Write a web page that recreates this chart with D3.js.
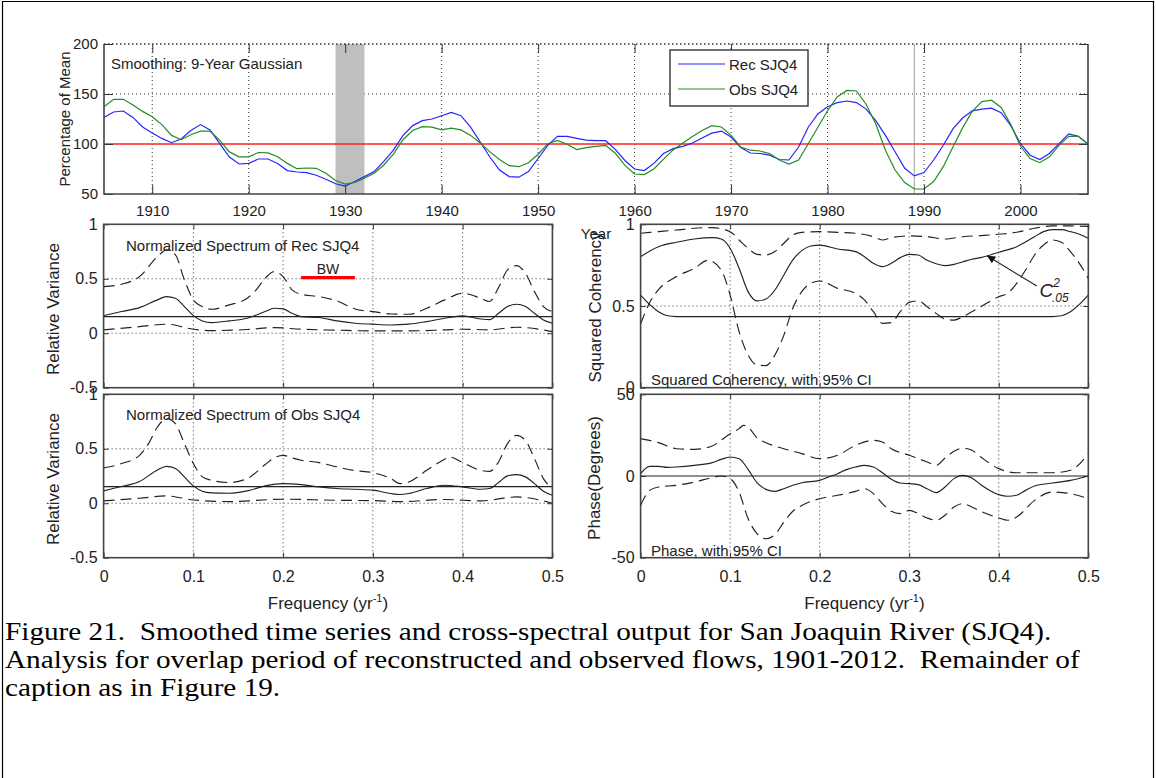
<!DOCTYPE html>
<html>
<head>
<meta charset="utf-8">
<script src="https://cdn.jsdelivr.net/npm/d3@7"></script>
<style>
  html, body { margin: 0; padding: 0; background: #fff; }
  svg text { font-family: "Liberation Sans", Arial, Helvetica, sans-serif; fill: #222; }
  .caption { font-family: "Liberation Serif", "Times New Roman", serif !important; font-size: 25px; fill: #000; white-space: pre; }
  .grid line { stroke: #333; stroke-width: 1; stroke-dasharray: 1,3; }
  .tick line { stroke: #333; stroke-width: 1; }
</style>
</head>
<body>
<div id="chart"></div>
<script>
// ---------------- Smoothed series (percent of mean) ----------------
const yearStart = 1905, yearEnd = 2007;
const years = d3.range(yearStart, yearEnd + 1);
const recSJQ4 = [126.6,132,133,126.6,117,111,105.6,101.3,105,113.5,119.4,114,100.3,87,80,80.6,85,85,80.6,73.4,
  72,71.4,68.8,64.8,60.2,58,62.5,67.4,72.4,82.6,93.8,108.6,118.4,123.4,125,128.3,131.6,128.3,116.8,102,
  87,74,67.4,66.8,72.4,85.5,98.7,107.6,107.6,105.6,103.9,103.3,103.3,94.7,83.5,75,73.4,80.6,90.5,95.4,
  97.7,101,106,110.9,112.9,107,96.4,91,90.5,88.8,84.5,84,97,116.8,130,137.2,141.4,143,141.4,134.9,
  123.4,108.6,92.2,75.7,68.1,71.4,84,98.7,115.1,126,133.2,134.9,135.9,131.3,118.4,100.3,88.8,84.5,90.5,100.3,
  110.2,107.6,100];
const obsSJQ4 = [137.2,144.7,144.7,139,132.6,127.3,119.4,108.6,104.3,109.2,112.8,112.8,103.6,92.1,87.2,87.2,91.5,91.1,87.2,80.6,
  75.3,76,75.7,70.7,63.5,59.9,61.5,65.8,70.7,79,89.8,104.3,113.5,117.4,116.8,114.1,115.8,114.1,108.6,101,
  92.1,84.5,78.3,77.3,81.3,89.8,100.3,103.6,99.7,94.4,96.4,97.7,98.7,90.8,78.6,70,69.4,75,84.9,94.1,
  101,107.6,113.5,118.4,117,108.6,97,93.8,93,90.5,84,80,84,100.3,116.8,133.2,147,153.6,153,139.8,
  120,93.8,74,61.5,55,55,62.5,77.3,97,116.1,132.6,142.4,143.8,136.5,119.4,97.7,85.5,81.3,87.2,98.7,
  107.6,107.6,100];
const meanLevel = 100;
const droughtSpan = [1929, 1932];
const markYear = 1989;
const topYTicks = [50, 100, 150, 200];
const topXTicks = [1910, 1920, 1930, 1940, 1950, 1960, 1970, 1980, 1990, 2000];

// ---------------- Spectrum of reconstruction ----------------
const recSpecF = [0,0.02,0.04,0.06,0.07,0.08,0.09,0.10,0.11,0.12,0.14,0.16,0.18,0.19,0.20,0.21,0.22,0.24,0.26,0.28,0.30,0.32,0.34,0.36,0.38,0.40,0.42,0.43,0.44,0.45,0.46,0.47,0.48,0.49,0.50];
const recSpec = [0.162,0.199,0.235,0.306,0.336,0.321,0.245,0.162,0.113,0.098,0.113,0.138,0.199,0.229,0.223,0.183,0.153,0.144,0.113,0.092,0.083,0.076,0.083,0.107,0.138,0.159,0.131,0.125,0.183,0.245,0.266,0.245,0.183,0.122,0.092];
const recUpF = [0,0.02,0.04,0.06,0.07,0.08,0.09,0.10,0.11,0.12,0.14,0.16,0.17,0.18,0.19,0.20,0.21,0.22,0.24,0.26,0.28,0.30,0.32,0.34,0.36,0.38,0.40,0.42,0.43,0.44,0.45,0.46,0.47,0.48,0.49,0.50];
const recUp = [0.428,0.45,0.52,0.703,0.765,0.72,0.49,0.306,0.245,0.22,0.26,0.321,0.398,0.505,0.566,0.52,0.398,0.358,0.336,0.297,0.223,0.199,0.177,0.174,0.229,0.306,0.367,0.321,0.291,0.419,0.581,0.621,0.55,0.382,0.245,0.199];
const recLoF = [0,0.04,0.07,0.10,0.12,0.16,0.19,0.22,0.26,0.30,0.34,0.38,0.40,0.43,0.46,0.50];
const recLo = [0.031,0.06,0.083,0.037,0.024,0.034,0.052,0.037,0.028,0.021,0.021,0.031,0.037,0.031,0.055,0.015];
const recWhite = 0.153;

// ---------------- Spectrum of observed flows ----------------
const obsSpecF = [0,0.02,0.04,0.06,0.07,0.08,0.09,0.10,0.11,0.12,0.14,0.16,0.18,0.20,0.22,0.24,0.26,0.28,0.30,0.32,0.33,0.34,0.36,0.38,0.40,0.42,0.43,0.44,0.45,0.46,0.47,0.48,0.49,0.50];
const obsSpec = [0.113,0.153,0.199,0.306,0.339,0.318,0.242,0.159,0.11,0.095,0.092,0.113,0.159,0.18,0.171,0.15,0.135,0.128,0.12,0.089,0.08,0.089,0.135,0.165,0.15,0.128,0.135,0.19,0.251,0.263,0.242,0.18,0.11,0.073];
const obsUpF = [0,0.02,0.04,0.05,0.06,0.07,0.08,0.09,0.10,0.11,0.12,0.14,0.16,0.18,0.19,0.20,0.21,0.22,0.24,0.26,0.28,0.30,0.32,0.33,0.34,0.36,0.38,0.385,0.40,0.42,0.43,0.44,0.45,0.46,0.47,0.48,0.49,0.50];
const obsUp = [0.324,0.364,0.44,0.547,0.7,0.777,0.73,0.547,0.364,0.242,0.211,0.19,0.226,0.355,0.416,0.44,0.416,0.395,0.373,0.333,0.3,0.281,0.226,0.18,0.195,0.302,0.404,0.425,0.373,0.302,0.293,0.379,0.547,0.623,0.577,0.41,0.226,0.135];
const obsLoF = [0,0.04,0.07,0.10,0.14,0.20,0.26,0.30,0.33,0.38,0.42,0.46,0.50];
const obsLo = [0.021,0.046,0.067,0.03,0.015,0.037,0.027,0.024,0.015,0.034,0.021,0.058,0.0];
const obsWhite = 0.153;
const bandwidth = [0.22, 0.28];
const bandwidthLevel = 0.51;

// ---------------- Squared coherency ----------------
const cohF = [0,0.02,0.04,0.06,0.08,0.09,0.10,0.11,0.12,0.13,0.14,0.15,0.16,0.17,0.18,0.19,0.20,0.22,0.24,0.25,0.26,0.27,0.28,0.29,0.30,0.31,0.32,0.33,0.34,0.35,0.36,0.37,0.38,0.40,0.42,0.44,0.45,0.46,0.47,0.48,0.49,0.50];
const coh = [0.802,0.863,0.89,0.91,0.918,0.91,0.853,0.731,0.588,0.531,0.543,0.598,0.69,0.782,0.839,0.867,0.873,0.849,0.833,0.802,0.761,0.741,0.761,0.796,0.816,0.812,0.78,0.759,0.747,0.755,0.771,0.786,0.796,0.829,0.863,0.924,0.955,0.967,0.967,0.955,0.939,0.914];
const cohUpF = [0,0.02,0.04,0.06,0.08,0.10,0.11,0.12,0.13,0.14,0.15,0.16,0.17,0.18,0.20,0.22,0.24,0.26,0.27,0.28,0.30,0.32,0.34,0.36,0.38,0.40,0.42,0.44,0.46,0.48,0.50];
const cohUp = [0.945,0.955,0.965,0.976,0.98,0.955,0.904,0.853,0.816,0.812,0.833,0.884,0.935,0.951,0.955,0.951,0.945,0.924,0.904,0.918,0.929,0.924,0.91,0.924,0.931,0.939,0.951,0.976,0.99,0.99,0.986];
const cohLoF = [0,0.01,0.02,0.04,0.06,0.075,0.09,0.10,0.11,0.12,0.13,0.14,0.15,0.16,0.17,0.18,0.19,0.20,0.22,0.24,0.25,0.26,0.27,0.28,0.29,0.30,0.31,0.32,0.33,0.34,0.35,0.36,0.37,0.38,0.40,0.41,0.42,0.43,0.44,0.45,0.46,0.47,0.48,0.49,0.50];
const cohLo = [0.39,0.52,0.6,0.68,0.73,0.78,0.72,0.567,0.343,0.2,0.139,0.135,0.2,0.322,0.486,0.588,0.639,0.653,0.608,0.578,0.537,0.465,0.394,0.398,0.465,0.522,0.531,0.496,0.455,0.42,0.414,0.435,0.465,0.496,0.557,0.578,0.639,0.72,0.812,0.873,0.904,0.89,0.833,0.761,0.669];
const sigF = [0,0.01,0.02,0.03,0.04,0.46,0.47,0.48,0.49,0.50];
const sig05 = [0.567,0.51,0.465,0.44,0.435,0.435,0.44,0.465,0.51,0.567];

// ---------------- Phase ----------------
const phaseF = [0,0.01,0.02,0.03,0.04,0.06,0.08,0.09,0.10,0.11,0.12,0.13,0.14,0.15,0.16,0.17,0.18,0.20,0.21,0.22,0.23,0.24,0.25,0.26,0.27,0.28,0.29,0.30,0.31,0.32,0.33,0.34,0.35,0.36,0.37,0.38,0.39,0.40,0.41,0.42,0.43,0.44,0.46,0.48,0.50];
const phase = [1.4,5.9,5.9,5.3,5.5,6.5,8.2,10.2,11.6,10.6,4.1,-4.1,-8.2,-9.4,-7.8,-5.7,-4.1,-2.7,-0.6,1.4,3.9,5.5,6.5,5.5,2.0,-2.0,-4.3,-4.7,-5.3,-7.8,-10.2,-6.7,-1.6,0.4,-1.2,-5.3,-8.8,-11.4,-12.4,-11.8,-8.8,-6.1,-4.3,-2.7,0];
const phaseUpF = [0,0.02,0.04,0.06,0.08,0.10,0.11,0.115,0.12,0.13,0.14,0.16,0.18,0.20,0.22,0.24,0.26,0.27,0.28,0.30,0.32,0.33,0.34,0.35,0.36,0.37,0.38,0.40,0.42,0.44,0.46,0.48,0.50];
const phaseUp = [22.9,20.4,16.7,16.3,18.4,25.9,29,31,30,23.3,20.4,16.7,13.7,10.6,12.7,18.8,21.8,20.8,16.7,12.7,8.6,6.5,11,15.1,17.1,15.7,11.6,4.5,2,2,2,3.5,13.7];
const phaseLoF = [0,0.01,0.02,0.04,0.06,0.08,0.09,0.10,0.11,0.12,0.13,0.14,0.15,0.16,0.17,0.18,0.20,0.22,0.24,0.25,0.26,0.27,0.28,0.29,0.30,0.31,0.32,0.33,0.34,0.35,0.36,0.37,0.38,0.40,0.41,0.42,0.44,0.46,0.48,0.50];
const phaseLo = [-18,-8.8,-6.7,-5.7,-3.7,-1,0,-1.6,-9.8,-26,-35.3,-38.4,-35.9,-28.2,-21.6,-18,-13.9,-11.8,-9.4,-7.8,-10.8,-16.9,-21.6,-23,-21,-23,-25.7,-27.1,-24,-19,-16.9,-19,-21.6,-25.7,-27.1,-25.1,-14.9,-9.8,-10.8,-13.9];

const freqTicks = [0, 0.1, 0.2, 0.3, 0.4, 0.5];
const varTicks = [-0.5, 0, 0.5, 1];
const cohTicks = [0, 0.5, 1];
const phaseTicks = [-50, 0, 50];

const captionLines = [
  "Figure 21.  Smoothed time series and cross-spectral output for San Joaquin River (SJQ4).",
  "Analysis for overlap period of reconstructed and observed flows, 1901-2012.  Remainder of",
  "caption as in Figure 19."
];

// ---------------- Drawing ----------------
const W = 1156, H = 778;
const svg = d3.select("#chart").append("svg").attr("width", W).attr("height", H);
svg.append("rect").attr("width", W).attr("height", H).attr("fill", "#fff");

// page frame
svg.append("path").attr("d", `M2.5,${H + 2} V1.5 H1153.5 V${H + 2}`)
  .attr("fill", "none").attr("stroke", "#000").attr("stroke-width", 1.2);

const defs = svg.append("defs");
let clipId = 0;

function makePanel(o) {
  const x = d3.scaleLinear().domain(o.xDomain).range([o.x0, o.x1]);
  const y = d3.scaleLinear().domain(o.yDomain).range([o.y1, o.y0]);
  const g = svg.append("g");
  const id = "clip" + (clipId++);
  defs.append("clipPath").attr("id", id).append("rect")
    .attr("x", o.x0).attr("y", o.y0).attr("width", o.x1 - o.x0).attr("height", o.y1 - o.y0);
  const grid = g.append("g").attr("class", "grid");
  grid.selectAll("line.gx").data(o.gridX).join("line").attr("class", "gx")
    .attr("x1", d => x(d)).attr("x2", d => x(d)).attr("y1", o.y0).attr("y2", o.y1);
  grid.selectAll("line.gy").data(o.gridY).join("line").attr("class", "gy")
    .attr("x1", o.x0).attr("x2", o.x1).attr("y1", d => y(d)).attr("y2", d => y(d));
  const plot = g.append("g").attr("clip-path", `url(#${id})`);
  return { g, plot, x, y, o };
}

function finishPanel(p) {
  const { g, x, y, o } = p;
  const tl = o.tickLen;
  const ax = g.append("g");
  const fmt = d => String(d);
  ax.append("g").attr("transform", `translate(0,${o.y1})`)
    .call(d3.axisBottom(x).tickValues(o.xTicks).tickSize(-tl).tickSizeOuter(0).tickPadding(o.xPad)
      .tickFormat(o.xLabels ? fmt : ""));
  ax.append("g").attr("transform", `translate(0,${o.y0})`)
    .call(d3.axisTop(x).tickValues(o.xTicks).tickSize(-tl).tickSizeOuter(0).tickFormat(""));
  ax.append("g").attr("transform", `translate(${o.x0},0)`)
    .call(d3.axisLeft(y).tickValues(o.yTicks).tickSize(-tl).tickSizeOuter(0).tickPadding(6).tickFormat(fmt));
  ax.append("g").attr("transform", `translate(${o.x1},0)`)
    .call(d3.axisRight(y).tickValues(o.yTicks).tickSize(-tl).tickSizeOuter(0).tickFormat(""));
  ax.selectAll(".domain").remove();
  ax.selectAll(".tick text").attr("font-size", o.tickFont).attr("fill", "#222")
    .attr("font-family", "Liberation Sans, Arial, sans-serif");
  if (o.dottedTop) {
    g.append("path").attr("d", `M${o.x0},${o.y0} V${o.y1} H${o.x1} V${o.y0}`)
      .attr("fill", "none").attr("stroke", "#444").attr("stroke-width", 1.6);
    g.append("line").attr("x1", o.x0).attr("x2", o.x1).attr("y1", o.y0).attr("y2", o.y0)
      .attr("stroke", "#333").attr("stroke-width", 1.6).attr("stroke-dasharray", "1.5,2.5");
  } else {
    g.append("rect").attr("x", o.x0).attr("y", o.y0).attr("width", o.x1 - o.x0).attr("height", o.y1 - o.y0)
      .attr("fill", "none").attr("stroke", "#444").attr("stroke-width", 1.6);
  }
}

function drawCurve(p, fs, vs, style) {
  const pts = fs.map((f, i) => [f, vs[i]]);
  const line = d3.line().x(d => p.x(d[0])).y(d => p.y(d[1])).curve(style.curve || d3.curveMonotoneX);
  p.plot.append("path").datum(pts).attr("d", line)
    .attr("fill", "none").attr("stroke", style.color || "#222")
    .attr("stroke-width", style.width || 1.15)
    .attr("stroke-dasharray", style.dash || null);
}

function hLine(p, v, style) {
  p.plot.append("line").attr("x1", p.o.x0).attr("x2", p.o.x1).attr("y1", p.y(v)).attr("y2", p.y(v))
    .attr("stroke", style.color || "#222").attr("stroke-width", style.width || 1.15);
}

function label(txt, x, y, opts = {}) {
  const t = svg.append("text").attr("x", x).attr("y", y).attr("font-size", opts.size || 15)
    .attr("text-anchor", opts.anchor || "start").attr("dominant-baseline", "central").text(txt);
  if (opts.rotate) t.attr("transform", `rotate(-90,${x},${y})`);
  return t;
}

const DASH = "11,6";

// ---- top panel: smoothed series ----
const pTop = makePanel({ x0: 104, x1: 1088, y0: 44, y1: 194, xDomain: [yearStart, yearEnd], yDomain: [50, 200],
  gridX: topXTicks, gridY: [150], xTicks: topXTicks, yTicks: topYTicks, tickLen: 9, xPad: 11, tickFont: 15,
  xLabels: true, dottedTop: true });
pTop.plot.append("rect").attr("x", pTop.x(droughtSpan[0])).attr("y", pTop.y(200))
  .attr("width", pTop.x(droughtSpan[1]) - pTop.x(droughtSpan[0])).attr("height", pTop.y(50) - pTop.y(200)).attr("fill", "#bfbfbf");
pTop.plot.append("line").attr("x1", pTop.x(markYear)).attr("x2", pTop.x(markYear)).attr("y1", pTop.y(200)).attr("y2", pTop.y(50))
  .attr("stroke", "#b3b3b3").attr("stroke-width", 1.3);
hLine(pTop, meanLevel, { color: "#ff2020", width: 1.6 });
drawCurve(pTop, years, recSJQ4, { color: "#2424ff", width: 1.2, curve: d3.curveLinear });
drawCurve(pTop, years, obsSJQ4, { color: "#248c24", width: 1.2, curve: d3.curveLinear });
finishPanel(pTop);
label("Smoothing: 9-Year Gaussian", 111, 63);
label("Percentage of Mean", 64, 119, { rotate: true, anchor: "middle" });
label("Year", 596, 233, { anchor: "middle", size: 15 });

// legend
const lg = svg.append("g");
lg.append("rect").attr("x", 670).attr("y", 50).attr("width", 138).attr("height", 56)
  .attr("fill", "#fff").attr("stroke", "#333").attr("stroke-width", 1.4);
[["Rec SJQ4", "#2424ff", 64], ["Obs SJQ4", "#248c24", 89]].forEach(([name, col, ly]) => {
  lg.append("line").attr("x1", 678).attr("x2", 725).attr("y1", ly).attr("y2", ly).attr("stroke", col).attr("stroke-width", 1.2);
  lg.append("text").attr("x", 729).attr("y", ly).attr("dominant-baseline", "central").attr("font-size", 15).text(name);
});

// ---- spectral panels ----
const L = { x0: 103.6, x1: 552.4 }, R = { x0: 640.6, x1: 1088.3 };
const U = { y0: 224.3, y1: 387.7 }, D = { y0: 394.3, y1: 557.7 };
const inner = [0.1, 0.2, 0.3, 0.4];
const specOpts = { xDomain: [0, 0.5], xTicks: freqTicks, tickLen: 5, xPad: 13, tickFont: 16 };

const pRec = makePanel({ ...specOpts, ...L, ...U, yDomain: [-0.5, 1], gridX: inner, gridY: [0, 0.5],
  yTicks: varTicks, xLabels: false });
hLine(pRec, recWhite, {});
drawCurve(pRec, recUpF, recUp, { dash: DASH });
drawCurve(pRec, recLoF, recLo, { dash: DASH });
drawCurve(pRec, recSpecF, recSpec, {});
pRec.plot.append("line").attr("x1", pRec.x(bandwidth[0])).attr("x2", pRec.x(bandwidth[1]))
  .attr("y1", pRec.y(bandwidthLevel)).attr("y2", pRec.y(bandwidthLevel)).attr("stroke", "#f00").attr("stroke-width", 3.2);
finishPanel(pRec);
label("BW", pRec.x((bandwidth[0] + bandwidth[1]) / 2), pRec.y(bandwidthLevel) - 9, { anchor: "middle", size: 14 });
label("Normalized Spectrum of Rec SJQ4", 126, 245);
label("Relative Variance", 53, 309, { rotate: true, anchor: "middle", size: 17 });

const pObs = makePanel({ ...specOpts, ...L, ...D, yDomain: [-0.5, 1], gridX: inner, gridY: [0, 0.5],
  yTicks: varTicks, xLabels: true });
hLine(pObs, obsWhite, {});
drawCurve(pObs, obsUpF, obsUp, { dash: DASH });
drawCurve(pObs, obsLoF, obsLo, { dash: DASH });
drawCurve(pObs, obsSpecF, obsSpec, {});
finishPanel(pObs);
label("Normalized Spectrum of Obs SJQ4", 126, 414);
label("Relative Variance", 53, 479, { rotate: true, anchor: "middle", size: 17 });

const pCoh = makePanel({ ...specOpts, ...R, ...U, yDomain: [0, 1], gridX: inner, gridY: [0.5],
  yTicks: cohTicks, xLabels: false });
drawCurve(pCoh, sigF, sig05, {});
drawCurve(pCoh, cohUpF, cohUp, { dash: DASH });
drawCurve(pCoh, cohLoF, cohLo, { dash: DASH });
drawCurve(pCoh, cohF, coh, {});
finishPanel(pCoh);
label("Squared Coherency, with 95% CI", 651, 379);
label("Squared Coherency", 595, 307, { rotate: true, anchor: "middle", size: 17 });

// C^2_.05 annotation with arrow
const tip = [pCoh.x(0.387), pCoh.y(0.808)], tail = [pCoh.x(0.4425), pCoh.y(0.622)];
defs.append("marker").attr("id", "ahead").attr("viewBox", "0 0 10 10").attr("refX", 10).attr("refY", 5)
  .attr("markerWidth", 10).attr("markerHeight", 8).attr("markerUnits", "userSpaceOnUse").attr("orient", "auto")
  .append("path").attr("d", "M0,0 L10,5 L0,10 z").attr("fill", "#111");
svg.append("line").attr("x1", tail[0]).attr("y1", tail[1]).attr("x2", tip[0]).attr("y2", tip[1])
  .attr("stroke", "#222").attr("stroke-width", 1.1).attr("marker-end", "url(#ahead)");
const cLab = svg.append("text").attr("x", pCoh.x(0.4455)).attr("y", pCoh.y(0.555))
  .attr("font-size", 19).attr("font-style", "italic");
cLab.append("tspan").text("C");
cLab.append("tspan").attr("font-size", 12).attr("dy", -10).attr("dx", 0).text("2");
cLab.append("tspan").attr("font-size", 12).attr("dy", 15).attr("dx", -8).text(".05");

const pPh = makePanel({ ...specOpts, ...R, ...D, yDomain: [-50, 50], gridX: inner, gridY: [],
  yTicks: phaseTicks, xLabels: true });
hLine(pPh, 0, {});
drawCurve(pPh, phaseUpF, phaseUp, { dash: DASH });
drawCurve(pPh, phaseLoF, phaseLo, { dash: DASH });
drawCurve(pPh, phaseF, phase, {});
finishPanel(pPh);
label("Phase, with 95% CI", 651, 550);
label("Phase(Degrees)", 594, 478, { rotate: true, anchor: "middle", size: 17 });

// frequency axis titles with superscript
function freqTitle(cx) {
  const t = svg.append("text").attr("x", cx).attr("y", 609).attr("text-anchor", "middle").attr("font-size", 17);
  t.append("tspan").text("Frequency (yr");
  t.append("tspan").attr("font-size", 11).attr("dy", -7).text("-1");
  t.append("tspan").attr("dy", 7).text(")");
}
freqTitle((L.x0 + L.x1) / 2);
freqTitle((R.x0 + R.x1) / 2);

// caption, set slightly wide
captionLines.forEach((s, i) => {
  svg.append("text").attr("class", "caption")
    .attr("transform", `translate(5,${640 + i * 28}) scale(1.17,1)`).text(s);
});
</script>
</body>
</html>
